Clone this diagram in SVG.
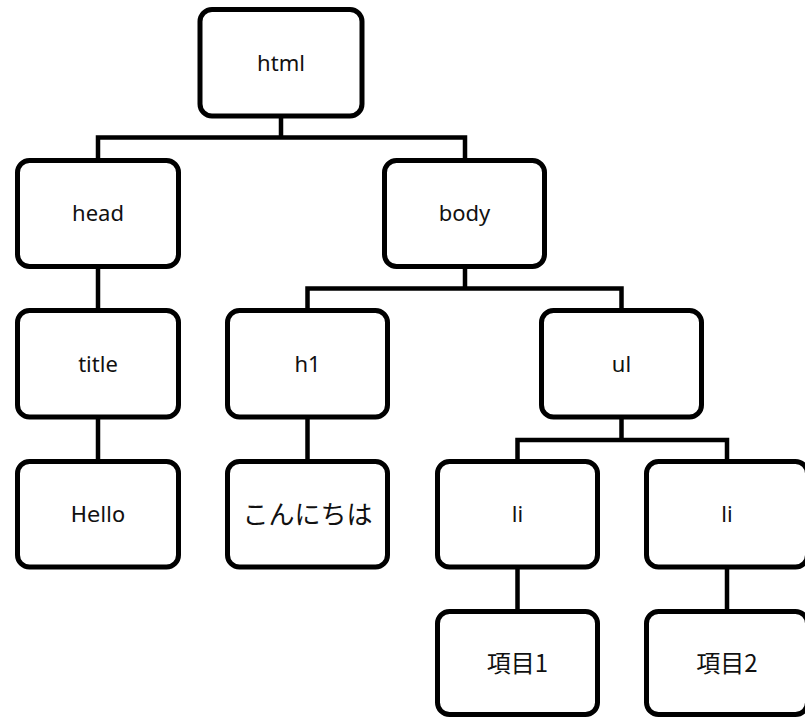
<svg xmlns="http://www.w3.org/2000/svg" width="805" height="718" viewBox="0 0 805 718">
<style>
.box{fill:#fff;stroke:#000;stroke-width:5}
.con{fill:none;stroke:#000;stroke-width:4.5;stroke-linejoin:miter}
.lbl{font-family:"Noto Sans","Open Sans",sans-serif;font-size:22px;fill:#111;text-anchor:middle}
.dv{font-family:"DejaVu Sans",sans-serif;font-size:21.5px;fill:#111;text-anchor:middle}
.jp{font-family:"Noto Sans CJK JP",sans-serif;fill:#111;text-anchor:middle}
</style>
<rect width="805" height="718" fill="#fff"/>
<g id="connectors">
<path class="con" d="M281 116V137.5M98 160.5V137.5H465V160.5"/>
<path class="con" d="M98 266.5V310.5M98 417V461.5"/>
<path class="con" d="M465 266.5V288.5M307.5 310.5V288.5H621.5V310.5"/>
<path class="con" d="M307.5 417V461.5"/>
<path class="con" d="M621.5 417V440M517.5 461.5V440H727V461.5"/>
<path class="con" d="M517.5 567V611.5M727 567V611.5"/>
</g>
<g id="html"><rect class="box" x="200" y="9.5" width="162" height="106.5" rx="12"/><text class="lbl" x="281" y="71">html</text></g>
<g id="head"><rect class="box" x="17.5" y="160.5" width="161" height="106" rx="12"/><text class="lbl" x="98" y="221">head</text></g>
<g id="body"><rect class="box" x="384.5" y="160.5" width="160" height="106" rx="12"/><text class="lbl" x="464.5" y="221">body</text></g>
<g id="title"><rect class="box" x="17.5" y="310.5" width="161" height="106.5" rx="12"/><text class="lbl" x="98" y="372">title</text></g>
<g id="h1"><rect class="box" x="227.5" y="310.5" width="160" height="106.5" rx="12"/><text class="lbl" x="307.5" y="372">h1</text></g>
<g id="ul"><rect class="box" x="541.5" y="310.5" width="160" height="106.5" rx="12"/><text class="lbl" x="621.5" y="372">ul</text></g>
<g id="hello"><rect class="box" x="17.5" y="461.5" width="161" height="105.5" rx="12"/><text class="dv" x="98" y="522">Hello</text></g>
<g id="konnichiwa"><rect class="box" x="227.5" y="461.5" width="160" height="105.5" rx="12"/><text class="jp" x="307.5" y="524" font-size="26">こんにちは</text></g>
<g id="li1"><rect class="box" x="437.5" y="461.5" width="160" height="105.5" rx="12"/><text class="lbl" x="517.5" y="522">li</text></g>
<g id="li2"><rect class="box" x="646.5" y="461.5" width="161" height="105.5" rx="12"/><text class="lbl" x="727" y="522">li</text></g>
<g id="item1"><rect class="box" x="437.5" y="611.5" width="160" height="103" rx="12"/><text class="jp" x="517.5" y="672" font-size="24">項目1</text></g>
<g id="item2"><rect class="box" x="646.5" y="611.5" width="161" height="103" rx="12"/><text class="jp" x="727" y="672" font-size="24">項目2</text></g>
</svg>
